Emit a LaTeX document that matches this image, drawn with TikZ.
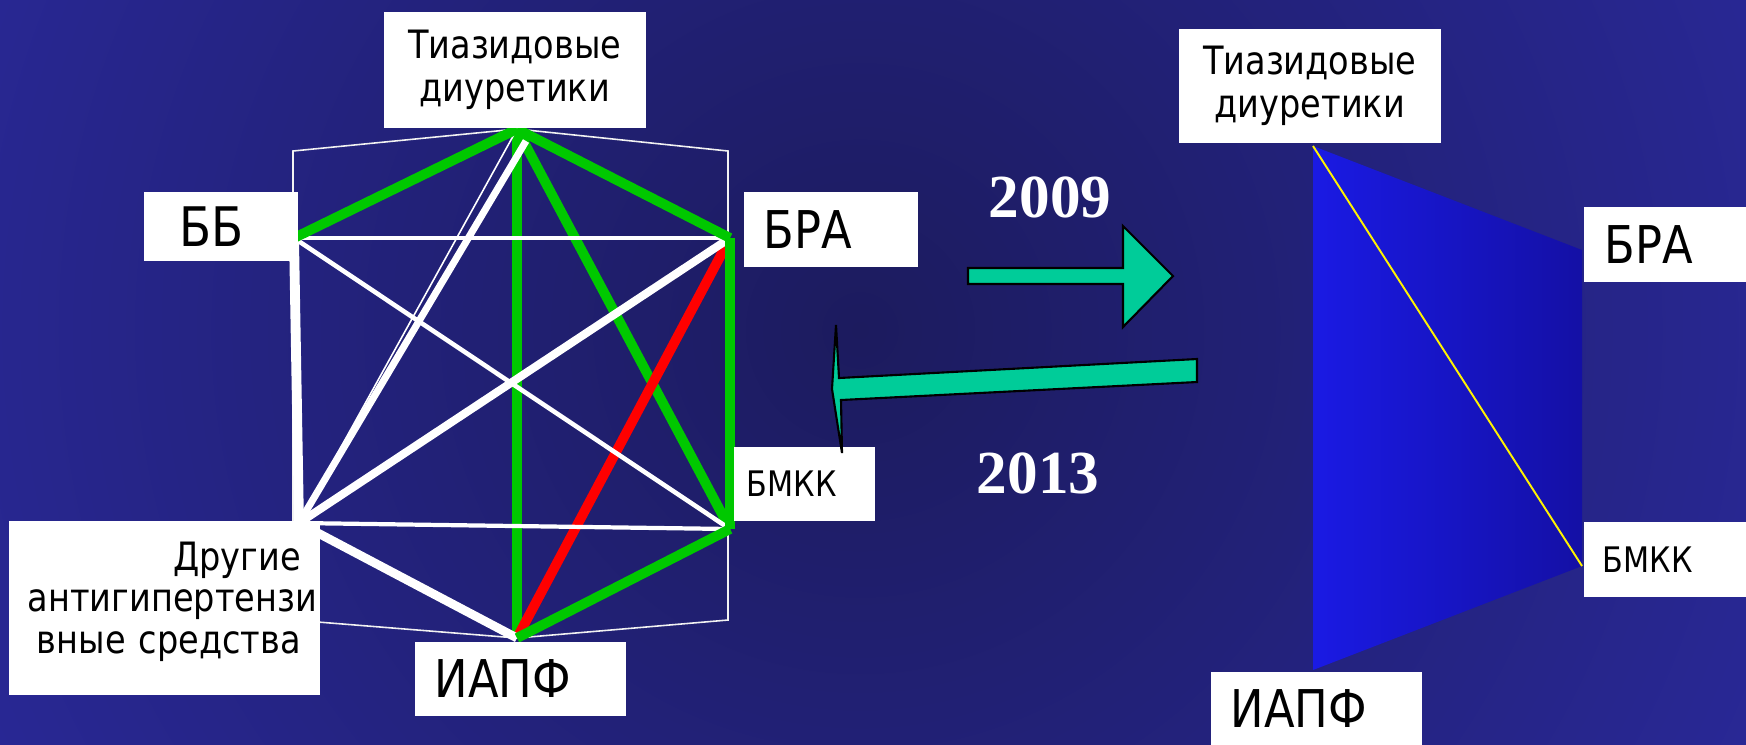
\documentclass[tikz,border=0pt]{standalone}
\usepackage{fontspec}
\setmainfont{DejaVu Sans}[FakeStretch=0.86]
\newfontfamily\yearfont{Liberation Serif}

\definecolor{bgdark}{RGB}{28,27,94}
\definecolor{bglight}{RGB}{47,46,176}
\definecolor{arrowfill}{RGB}{0,204,153}
\definecolor{linkgreen}{RGB}{0,200,0}
\definecolor{linkred}{RGB}{255,0,0}
\definecolor{trapleft}{RGB}{26,26,228}
\definecolor{trapright}{RGB}{20,16,165}

\begin{document}
\begin{tikzpicture}[
    x=0.01cm, y=-0.01cm,
    lbl/.style={fill=white, text=black, anchor=north west, inner ysep=0pt, align=left},
    bigtxt/.style={font=\fontsize{14.8}{17}\selectfont},
    midtxt/.style={font=\fontsize{11.1}{12.2}\selectfont},
    smalltxt/.style={font=\fontsize{10}{12}\selectfont},
    year/.style={text=white, anchor=base, font=\yearfont\bfseries\fontsize{17.4}{20}\selectfont},
    gedge/.style={draw=linkgreen, line width=2.8pt},
    redge/.style={draw=linkred, line width=2.8pt},
    wedge/.style={draw=white, line width=#1},
    frame/.style={draw=white!90!gray, line width=0.45pt},
    blockarr/.style={fill=arrowfill, draw=black, line width=0.6pt},
]
    % Background
    \begin{scope}
        \clip (0,0) rectangle (1746,744);
        \shade[inner color=bgdark, outer color=bglight] (860,330) circle (14.5cm);
    \end{scope}
    \useasboundingbox (0,0) rectangle (1746,744);

    % Left: corners of the hexagon
    \coordinate (T) at (517,129);
    \coordinate (T2) at (526,141);
    \coordinate (BB) at (294,238);
    \coordinate (BRA) at (730,238);
    \coordinate (BMKK) at (730,529);
    \coordinate (Other) at (299,523);
    \coordinate (IAPF) at (517,638);
    \coordinate (hx1) at (293,151);
    \coordinate (hx2) at (728,151);
    \coordinate (hx3) at (728,620);
    \coordinate (hx4) at (293,620);

    \draw[frame] (hx1) -- (T) -- (hx2) -- (hx3) -- (IAPF) -- (hx4) -- cycle;

    % inner green, red, then white links
    \draw[gedge] (T) -- (IAPF);
    \draw[gedge] (T) -- (BMKK);
    \draw[redge] (BRA) -- (IAPF);
    \draw[wedge=0.45pt] (T) -- (Other);
    \draw[wedge=2pt] (T2) -- (Other);
    \draw[wedge=2.8pt] (BB) -- (Other);
    \draw[wedge=2.3pt] (BRA) -- (Other);
    \draw[wedge=2.5pt] (Other) -- (IAPF);
    \draw[wedge=1.2pt] (BB) -- (BRA);
    \draw[wedge=1.3pt] (BB) -- (BMKK);
    \draw[wedge=1.2pt] (Other) -- (BMKK);

    % outer green links
    \draw[gedge] (BB) -- (T);
    \draw[gedge] (T) -- (BRA);
    \draw[gedge] (BRA) -- (BMKK);
    \draw[gedge] (BMKK) -- (IAPF);

    % Left labels
    \node[lbl, midtxt, minimum width=2.62cm, minimum height=1.16cm, align=center, inner xsep=0pt] (tiazL) at (383,11) {Тиазидовые\\диуретики};
    \node[lbl, bigtxt, inner xsep=0.36cm, text width=0.82cm, minimum height=0.69cm, font=\fontsize{15.5}{17}\selectfont] (bbL) at (143,191) {ББ};
    \node[lbl, bigtxt, inner xsep=0.2cm, text width=1.34cm, minimum height=0.75cm] (braL) at (743,191) {БРА};
    \node[lbl, smalltxt, inner xsep=0.13cm, text width=1.15cm, minimum height=0.74cm] (bmkkL) at (733,446) {БМКК};
    \node[lbl, font=\fontsize{11.1}{11.8}\selectfont, inner xsep=0.19cm, text width=2.73cm, minimum height=1.74cm, text depth=29.5pt, align=right] (otherL) at (8,520) {Другие\\антигипертензи\\вные средства};
    \node[lbl, bigtxt, inner xsep=0.2cm, text width=1.71cm, minimum height=0.74cm] (iapfL) at (414,641) {ИАПФ};

    % Right: the reduced scheme
    \coordinate (rT) at (1313,146);
    \coordinate (rBRA) at (1582,250);
    \coordinate (rBMKK) at (1582,566);
    \coordinate (rIAPF) at (1313,670);
    \shade[left color=trapleft, right color=trapright] (rT) -- (rBRA) -- (rBMKK) -- (rIAPF) -- cycle;
    \draw[yellow, line width=0.55pt] (rT) -- (rBMKK);

    \node[lbl, midtxt, minimum width=2.62cm, minimum height=1.14cm, align=center, inner xsep=0pt] (tiazR) at (1178,28) {Тиазидовые\\диуретики};
    \node[lbl, bigtxt, inner xsep=0.21cm, text width=1.21cm, minimum height=0.75cm] (braR) at (1583,206) {БРА};
    \node[lbl, smalltxt, inner xsep=0.19cm, text width=1.25cm, minimum height=0.75cm] (bmkkR) at (1583,521) {БМКК};
    \node[lbl, bigtxt, inner xsep=0.2cm, text width=1.71cm, minimum height=0.73cm] (iapfR) at (1210,671) {ИАПФ};

    % Arrows between the two schemes
    \draw[blockarr] (968,268) -- (1123,268) -- (1123,226) -- (1173,276) -- (1123,327) -- (1123,284) -- (968,284) -- cycle;
    \draw[blockarr] (832,389) -- (836,325) -- (839,378) -- (1197,359) -- (1197,382) -- (841,400) -- (842,453) -- cycle;

    \node[year] (y2009) at (1050,217) {2009};
    \node[year] (y2013) at (1038,493) {2013};
\end{tikzpicture}
\end{document}
